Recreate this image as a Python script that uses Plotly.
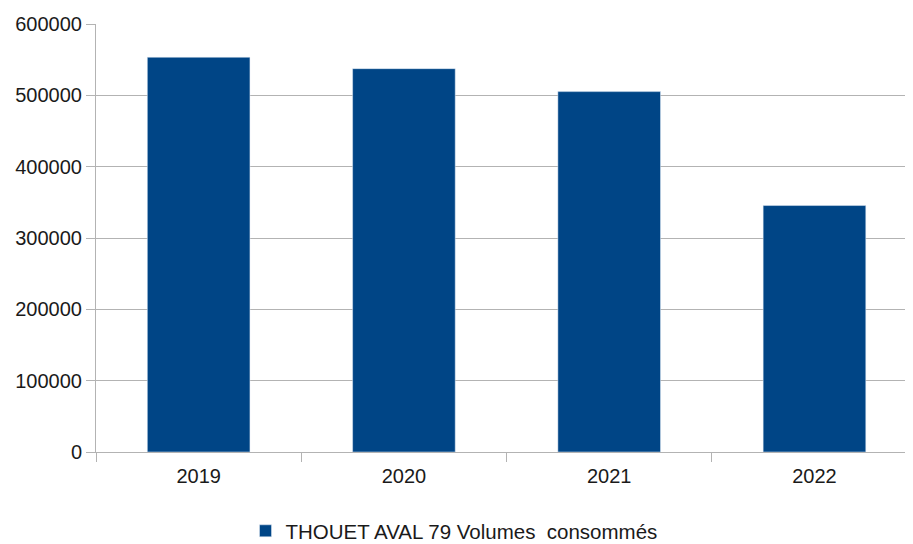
import plotly.graph_objects as go

annees = ['2019', '2020', '2021', '2022']
volumes = [553400, 537400, 505200, 345500]
serie = 'THOUET AVAL 79 Volumes  consommés'

fig = go.Figure(data=[
  go.Bar(
    x=annees,
    y=volumes,
    name=serie,
    marker_color='#004586',
    width=0.5,
    showlegend=True,
  )
])

# la page html ajoute 8px de marge autour du graphique
fig.update_layout(
  width=905,
  height=536,
  margin=dict(l=88, r=0, t=16, b=92),
  font=dict(family='Liberation Sans', size=20, color='#1a1a1a'),
  plot_bgcolor='white',
  paper_bgcolor='white',
  showlegend=True,
  legend=dict(
    orientation='h',
    xref='paper', x=0.183, xanchor='left',
    yref='container', y=0.0243, yanchor='middle',
    font=dict(size=20.5),
  ),
  xaxis=dict(
    type='category',
    range=[-0.5, 3.48],
    automargin=False,
    showline=True,
    linecolor='#b3b3b3',
    ticks='outside',
    tickson='boundaries',
    ticklen=9,
    tickcolor='#b3b3b3',
    ticklabelstandoff=6,
    showgrid=False,
  ),
  yaxis=dict(
    range=[0, 600000],
    dtick=100000,
    tickformat='d',
    automargin=False,
    showline=True,
    linecolor='#b3b3b3',
    ticks='outside',
    ticklen=9,
    tickcolor='#b3b3b3',
    gridcolor='#b3b3b3',
    zeroline=False,
  ),
)

fig.write_html("out.html")
